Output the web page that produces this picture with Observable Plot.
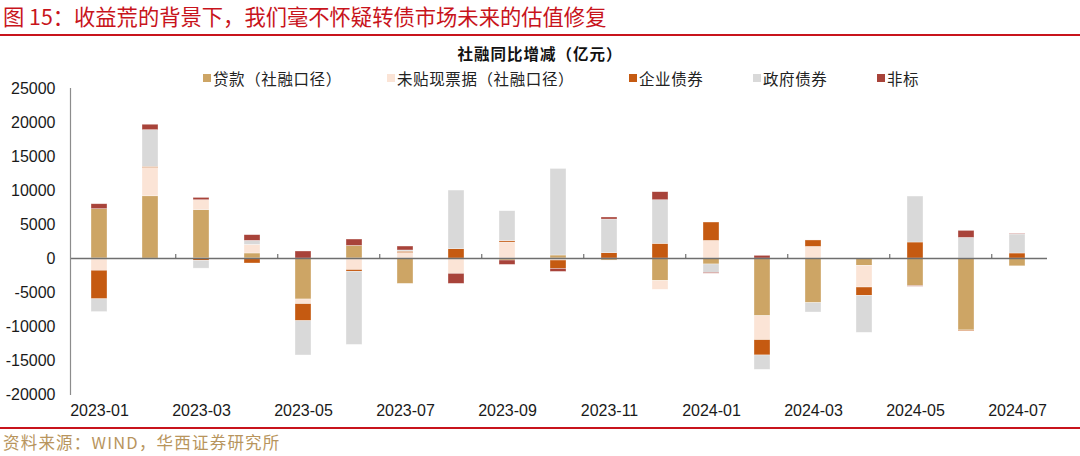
<!DOCTYPE html>
<html>
<head>
<meta charset="utf-8">
<script src="https://cdn.jsdelivr.net/npm/d3@7"></script>
<script src="https://cdn.jsdelivr.net/npm/@observablehq/plot@0.6"></script>
<style>
  html, body { margin: 0; padding: 0; background: #fff; }
  #wrap { position: relative; width: 1080px; height: 456px; overflow: hidden;
          font-family: "Liberation Sans", "Noto Sans CJK SC", sans-serif; }
  #title { position: absolute; left: 3px; top: 2px; font-family: "Noto Sans CJK SC", sans-serif;
           font-size: 21.3px; color: #c8141c; line-height: 28px; white-space: nowrap; }
  #topline { position: absolute; left: 0; top: 34px; width: 1080px; height: 2px; background: #c8141c; }
  #subtitle { position: absolute; left: 0; width: 1080px; top: 42px; text-align: center;
              font-family: "Noto Sans CJK SC", sans-serif; font-weight: bold; font-size: 15.5px; color: #111;
              letter-spacing: 1px; }
  #legend { position: absolute; left: 203px; top: 67px; display: flex;
            font-family: "Noto Sans CJK SC", sans-serif; font-size: 15.5px; color: #222; line-height: 22px; }
  #legend .item { display: flex; align-items: center; white-space: nowrap; letter-spacing: 0.6px; }
  #legend .sw { width: 8px; height: 8px; margin-right: 2px; display: inline-block; }
  #chart { position: absolute; left: 0; top: 70px; }
  #botline { position: absolute; left: 0; top: 427px; width: 1080px; height: 2px; background: #c8141c; }
  #source { position: absolute; left: 3px; top: 431px; font-family: "Noto Sans CJK SC", sans-serif;
            font-size: 16.5px; color: #b8955d; line-height: 22px; white-space: nowrap; letter-spacing: 1.2px; }
</style>
</head>
<body>
<div id="wrap">
  <div id="title"></div>
  <div id="topline"></div>
  <div id="subtitle"></div>
  <div id="legend"></div>
  <div id="chart"></div>
  <div id="botline"></div>
  <div id="source"></div>
</div>
<script>
// ---- data ----
const titleText = "图 15：收益荒的背景下，我们毫不怀疑转债市场未来的估值修复";
const subtitleText = "社融同比增减（亿元）";
const sourceText = "资料来源：WIND，华西证券研究所";

const months = ["2023-01","2023-02","2023-03","2023-04","2023-05","2023-06","2023-07","2023-08","2023-09","2023-10",
                "2023-11","2023-12","2024-01","2024-02","2024-03","2024-04","2024-05","2024-06","2024-07"];
const seriesNames = ["贷款（社融口径）","未贴现票据（社融口径）","企业债券","政府债券","非标"];
const seriesColors = ["#cda565","#fbe4d6","#c55a11","#d9d9d9","#a8433a"];

const loans      = [7250, 9150, 7120, 740, -6030, 1850, -3730, 0, -300, 440, -300, -3300, -880, -8480, -6570, -1080, -4070, -10580, -1150];
const bills      = [-1800, 4170, 1450, 1265, -690, -1700, 800, -2260, 2350, -300, 0, -1300, 2590, -3530, 1710, -3190, 0, 0, 0];
const corpBonds  = [-4200, 150, -340, -735, -2500, -250, 200, 1370, 200, -1230, 780, 2150, 2700, -2250, 940, -1220, 2350, -100, 735];
const govBonds   = [-1870, 5400, -1150, 590, -5040, -10750, 180, 8620, 4400, 12730, 4950, 6420, -1230, -2110, -1370, -5440, 6760, 3030, 2790];
const nonStd     = [730, 800, 340, 835, 1030, 940, 580, -1470, -640, -440, 300, 1180, -120, 390, 0, 0, -80, 1030, 80];

const yTicks = [-20000,-15000,-10000,-5000,0,5000,10000,15000,20000,25000];
const xLabelMonths = months.filter((d, i) => i % 2 === 0);
const xTickMonths = months.filter((d, i) => i % 2 === 0 && i > 0);

// ---- build table ----
const seriesValues = [loans, bills, corpBonds, govBonds, nonStd];
const rows = [];
seriesNames.forEach((name, s) => {
  months.forEach((m, i) => {
    const v = seriesValues[s][i];
    if (v !== 0) rows.push({month: m, series: name, value: v});
  });
});

// ---- header / legend / footer ----
document.getElementById("title").textContent = titleText;
document.getElementById("subtitle").textContent = subtitleText;
document.getElementById("source").textContent = sourceText;
const legendItemWidths = [184, 242, 124, 124, 60]; // layout only
const legend = document.getElementById("legend");
seriesNames.forEach((n, i) => {
  const it = document.createElement("div"); it.className = "item";
  it.style.width = legendItemWidths[i] + "px";
  const sw = document.createElement("span"); sw.className = "sw"; sw.style.background = seriesColors[i];
  const tx = document.createElement("span"); tx.textContent = n;
  it.appendChild(sw); it.appendChild(tx); legend.appendChild(it);
});

// ---- chart ----
const W = 1080, H = 350, mL = 70, mR = 33, mT = 18, mB = 26;
const step = (W - mL - mR) / months.length;

const chart = Plot.plot({
  width: W, height: H,
  marginLeft: mL, marginRight: mR, marginTop: mT, marginBottom: mB,
  style: {fontFamily: "Liberation Sans, Arial, sans-serif", fontSize: "16px", color: "#1a1a1a", background: "transparent"},
  x: {domain: months, paddingInner: 0.68, paddingOuter: 0.34, label: null},
  y: {domain: [-20000, 25000], label: null},
  color: {domain: seriesNames, range: seriesColors},
  marks: [
    Plot.barY(rows, {x: "month", y: "value", fill: "series", stroke: "#ffffff", strokeOpacity: 0.55, strokeWidth: 0.6}),
    Plot.ruleY([0], {stroke: "#6f6f6f", strokeWidth: 1.4}),
    Plot.ruleX(xTickMonths, {x: d => d, y1: 0, y2: 0, dx: -step / 2, insetTop: 0, insetBottom: 4, stroke: "#555", strokeWidth: 1}),
    Plot.frame({anchor: "left", stroke: "#8c8c8c", strokeWidth: 1.2}),
    Plot.axisY({ticks: yTicks, tickSize: 0, tickPadding: 15, tickFormat: d => String(d), fontSize: 16}),
    Plot.axisX({ticks: xLabelMonths, tickSize: 0, tickPadding: 10, fontSize: 16})
  ]
});
document.getElementById("chart").appendChild(chart);
</script>
</body>
</html>
